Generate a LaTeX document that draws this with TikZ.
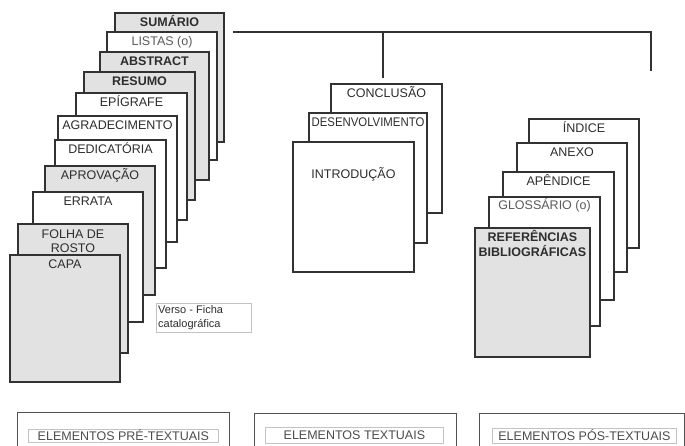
\documentclass[tikz,border=0pt]{standalone}
\usepackage{fontspec}
\setmainfont{Liberation Sans}
\definecolor{pg}{RGB}{226,226,226}
\definecolor{edge}{RGB}{50,50,50}
\definecolor{txt}{RGB}{45,45,45}
\definecolor{ltxt}{RGB}{90,90,90}
\definecolor{lbox}{RGB}{195,195,195}
\begin{document}
\begin{tikzpicture}[x=1pt,y=-1pt,
  pagebox/.style={draw=edge, line width=1.1pt, fill=white, rectangle, inner sep=0pt, outer sep=0pt, anchor=north west},
  greypage/.style={fill=pg},
  ptext/.style={font=\fontsize{12.5}{14.5}\selectfont, text=txt, inner sep=0pt, anchor=base, align=center},
  boldtxt/.style={font=\fontsize{12.5}{14.5}\selectfont\bfseries},
  lighttxt/.style={text=ltxt},
  outerbox/.style={draw=edge!85, line width=1.1pt, rectangle, inner sep=0pt, anchor=north west},
  innerbox/.style={draw=lbox, line width=0.8pt, rectangle, inner sep=0pt, anchor=north west},
  bracket/.style={draw=edge, line width=1.6pt}
]
\useasboundingbox (0,0) rectangle (685,445);

% ---------- pre-textual stack (back to front) ----------
\node[pagebox, greypage, minimum width=109pt, minimum height=129pt] (sumario) at (115,13) {};
\node[ptext, boldtxt] (tsumario) at ([yshift=-13.5pt]sumario.north) {SUMÁRIO};
\node[pagebox, minimum width=110pt, minimum height=128pt] (listas) at (107,32) {};
\node[ptext, lighttxt] (tlistas) at ([yshift=-13.5pt]listas.north) {LISTAS (o)};
\node[pagebox, greypage, minimum width=109pt, minimum height=128pt] (abstract) at (100,52) {};
\node[ptext, boldtxt] (tabstract) at ([yshift=-13.5pt]abstract.north) {ABSTRACT};
\node[pagebox, greypage, minimum width=111pt, minimum height=128pt] (resumo) at (84,72) {};
\node[ptext, boldtxt] (tresumo) at ([yshift=-13.5pt]resumo.north) {RESUMO};
\node[pagebox, minimum width=111pt, minimum height=127pt] (epigrafe) at (76,93) {};
\node[ptext] (tepigrafe) at ([yshift=-13.5pt]epigrafe.north) {EPÍGRAFE};
\node[pagebox, minimum width=119pt, minimum height=126pt] (agradec) at (58,116) {};
\node[ptext] (tagradec) at ([yshift=-13.5pt]agradec.north) {AGRADECIMENTO};
\node[pagebox, minimum width=111pt, minimum height=128pt] (dedic) at (55,140) {};
\node[ptext] (tdedic) at ([yshift=-13.5pt]dedic.north) {DEDICATÓRIA};
\node[pagebox, greypage, minimum width=110pt, minimum height=129pt] (aprov) at (45,166) {};
\node[ptext] (taprov) at ([yshift=-13.5pt]aprov.north) {APROVAÇÃO};
\node[pagebox, minimum width=110pt, minimum height=130pt] (errata) at (33,192) {};
\node[ptext] (terrata) at ([yshift=-13.5pt]errata.north) {ERRATA};
\node[pagebox, greypage, minimum width=110pt, minimum height=129pt] (folha) at (18,224) {};
\node[ptext] (tfolha) at ([yshift=-28.5pt]folha.north) {FOLHA DE\\ROSTO};
\node[pagebox, greypage, minimum width=110pt, minimum height=127pt] (capa) at (10,255) {};
\node[ptext] (tcapa) at ([yshift=-13.5pt]capa.north) {CAPA};

% verso note
\node[draw=lbox, line width=0.8pt, rectangle, inner sep=0pt, anchor=north west,
      minimum width=95pt, minimum height=29pt] (verso) at (156,303) {};
\node[font=\fontsize{11}{13.5}\selectfont, text=txt, inner sep=0pt, align=left, anchor=north west] (tverso) at (158,305.5) {Verso - Ficha\\catalográfica};

% ---------- textual stack ----------
\node[pagebox, minimum width=111pt, minimum height=129pt] (conclusao) at (331,84) {};
\node[ptext] (tconclusao) at ([yshift=-13.5pt]conclusao.north) {CONCLUSÃO};
\node[pagebox, minimum width=118pt, minimum height=130pt] (desenv) at (309,113) {};
\node[ptext] (tdesenv) at ([yshift=-13.5pt]desenv.north) {\scalebox{0.91}[1]{DESENVOLVIMENTO}};
\node[pagebox, minimum width=121pt, minimum height=130pt] (intro) at (293,142) {};
\node[ptext] (tintro) at ([yshift=-36.5pt]intro.north) {INTRODUÇÃO};

% ---------- post-textual stack ----------
\node[pagebox, minimum width=110pt, minimum height=129pt] (indice) at (529,119) {};
\node[ptext] (tindice) at ([yshift=-13.5pt]indice.north) {ÍNDICE};
\node[pagebox, minimum width=110pt, minimum height=129pt] (anexo) at (517,143) {};
\node[ptext] (tanexo) at ([yshift=-13.5pt]anexo.north) {ANEXO};
\node[pagebox, minimum width=111pt, minimum height=128pt] (apendice) at (503,172) {};
\node[ptext] (tapendice) at ([yshift=-13.5pt]apendice.north) {APÊNDICE};
\node[pagebox, minimum width=111pt, minimum height=129pt] (glossario) at (489,197) {};
\node[ptext, lighttxt] (tglossario) at ([yshift=-12.5pt]glossario.north) {GLOSSÁRIO (o)};
\node[pagebox, greypage, minimum width=115pt, minimum height=129pt] (refs) at (475,228) {};
\node[ptext, boldtxt] (trefs) at ([yshift=-28pt]refs.north) {REFERÊNCIAS\\BIBLIOGRÁFICAS};

% ---------- bracket connector ----------
\coordinate (hl) at (233,32);
\coordinate (hm) at (383,32);
\coordinate (hr) at (651,32);
\coordinate (mdrop) at (383,78);
\coordinate (rdrop) at (651,71);
\draw[bracket] (hl) -- (hr) -- (rdrop);
\draw[bracket] (hm) -- (mdrop);

% ---------- bottom labels ----------
\node[outerbox, minimum width=212pt, minimum height=36pt] (pre) at (17,412) {};
\node[innerbox, minimum width=190pt, minimum height=13pt] (prein) at (28,429) {};
\node[ptext, text=txt!85] (tpre) at ([yshift=-4.5pt]prein.center) {ELEMENTOS PRÉ-TEXTUAIS};

\node[outerbox, minimum width=202pt, minimum height=36pt] (txtl) at (254,413) {};
\node[innerbox, minimum width=178pt, minimum height=16pt] (txtin) at (265,427) {};
\node[ptext, text=txt!85] (ttxt) at ([yshift=-4.5pt]txtin.center) {ELEMENTOS TEXTUAIS};

\node[outerbox, minimum width=205pt, minimum height=36pt] (pos) at (479,413) {};
\node[innerbox, minimum width=184pt, minimum height=15pt] (posin) at (492,428) {};
\node[ptext, text=txt!85] (tpos) at ([yshift=-4.5pt]posin.center) {ELEMENTOS PÓS-TEXTUAIS};
\end{tikzpicture}
\end{document}
